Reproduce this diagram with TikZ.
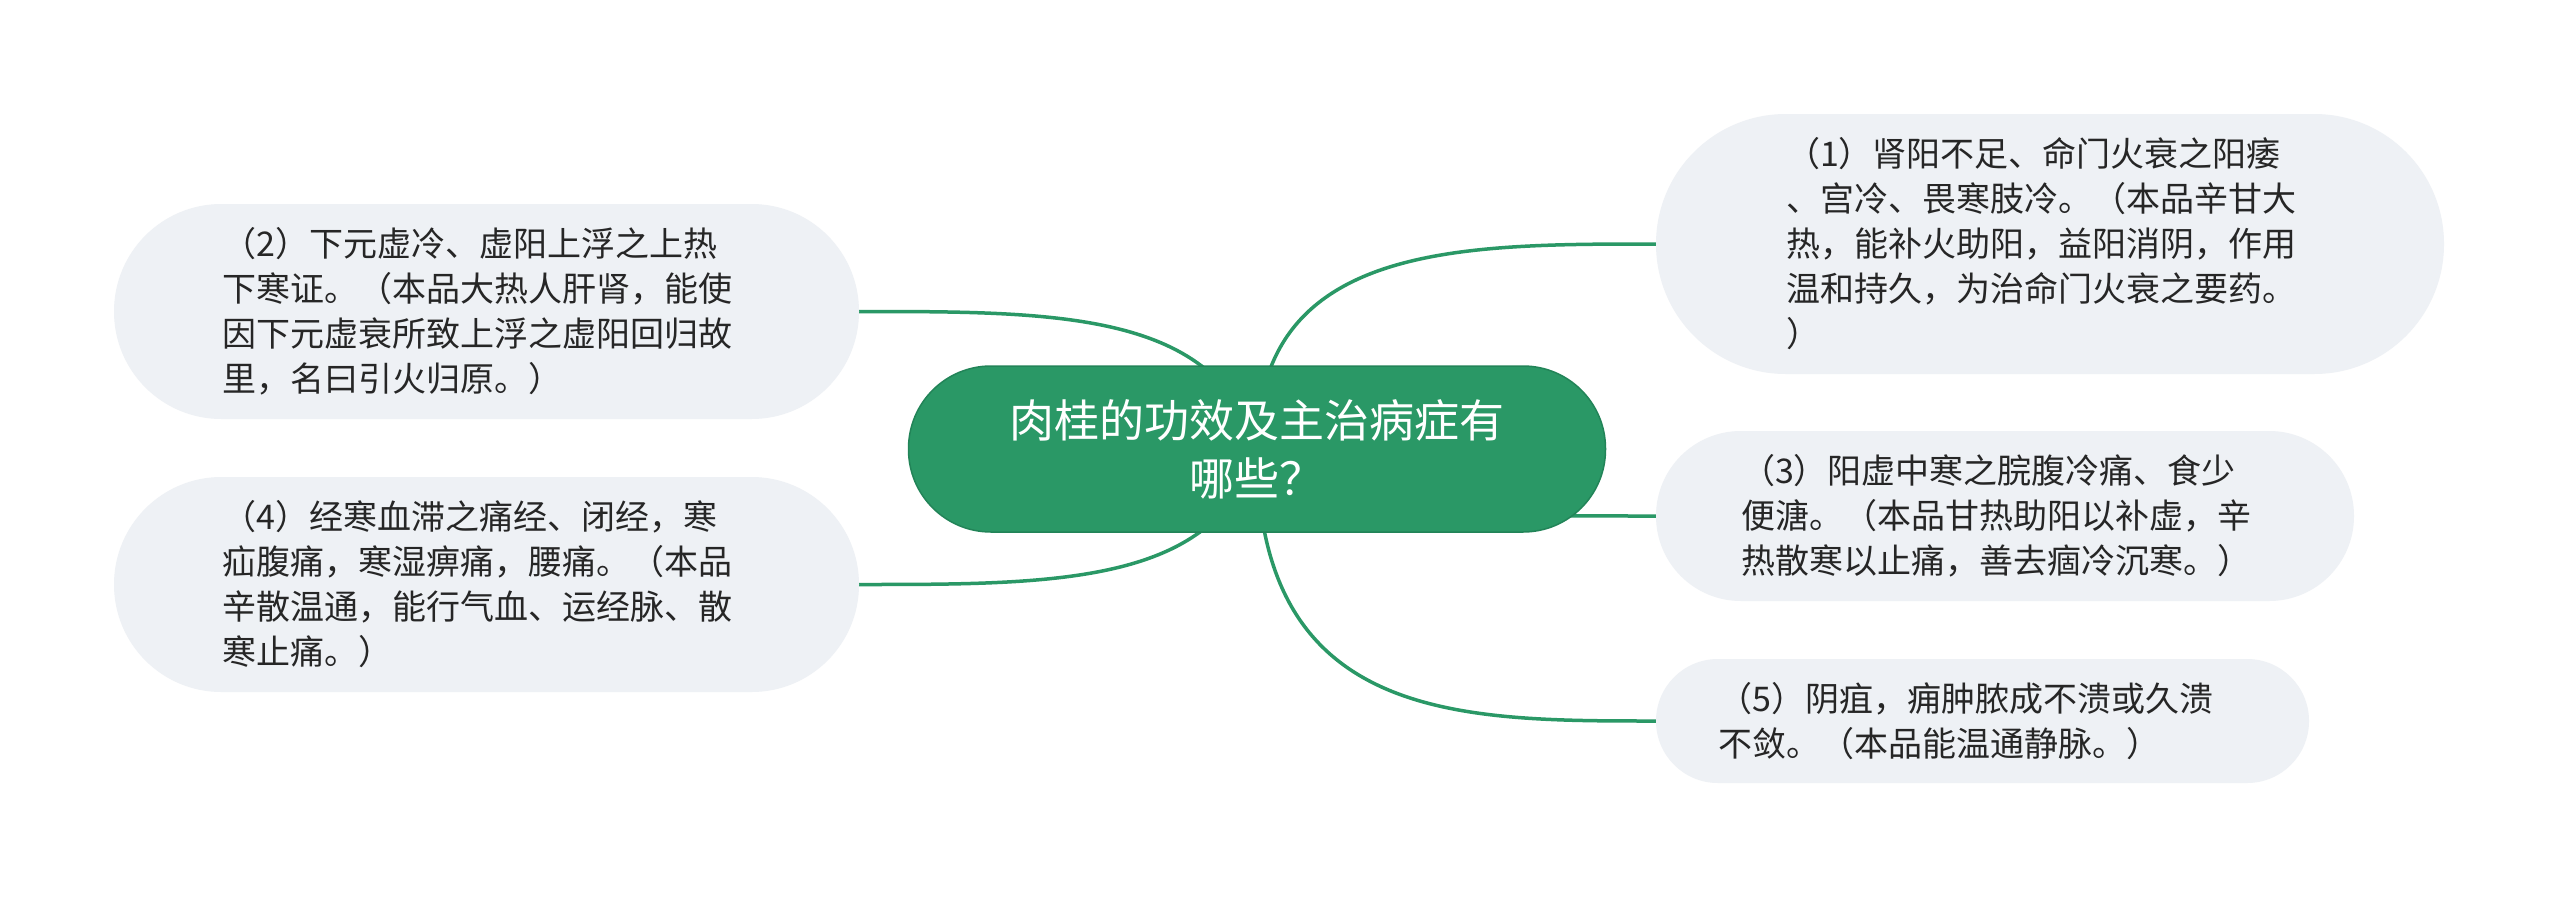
\documentclass[tikz,border=0pt]{standalone}
\usepackage{fontspec}
\setmainfont{Noto Sans CJK SC}
\usetikzlibrary{calc}
\definecolor{mmgreen}{RGB}{42,152,102}
\definecolor{mmedge}{RGB}{34,132,88}
\definecolor{leafbg}{RGB}{238,241,245}
\definecolor{leaftext}{RGB}{38,38,38}
\pgfdeclarelayer{bg}
\pgfsetlayers{bg,main}
\tikzset{
  leaf/.style 2 args={fill=leafbg, rounded corners=0.499*#2, minimum width=#1,
    minimum height=#2, inner sep=0pt, text width=528pt, align=left,
    text=leaftext, font=\fontsize{34}{45}\selectfont},
  root/.style={fill=mmgreen, draw=mmedge, line width=1.5pt, rounded corners=82.5,
    minimum width=697, minimum height=166, inner sep=0pt, text width=600pt,
    align=center, text=white, font=\fontsize{45}{58}\selectfont},
  conn/.style={draw=mmgreen, line width=3.5pt}
}
\begin{document}
\begin{tikzpicture}[x=1pt,y=-1pt]
\useasboundingbox (0,0) rectangle (2560,897);

\node[root] (C) at (1257,449) {肉桂的功效及主治病症有\\哪些？};

\node[leaf={788}{260}] (n1) at (2050,244)
  {（1）肾阳不足、命门火衰之阳痿\\、宫冷、畏寒肢冷。（本品辛甘大\\热，能补火助阳，益阳消阴，作用\\温和持久，为治命门火衰之要药。\\）};
\node[leaf={745}{215}] (n2) at (486.5,311.5)
  {（2）下元虚冷、虚阳上浮之上热\\下寒证。（本品大热人肝肾，能使\\因下元虚衰所致上浮之虚阳回归故\\里，名曰引火归原。）};
\node[leaf={698}{170}] (n3) at (2005,516)
  {（3）阳虚中寒之脘腹冷痛、食少\\便溏。（本品甘热助阳以补虚，辛\\热散寒以止痛，善去痼冷沉寒。）};
\node[leaf={745}{215}] (n4) at (486.5,584.5)
  {（4）经寒血滞之痛经、闭经，寒\\疝腹痛，寒湿痹痛，腰痛。（本品\\辛散温通，能行气血、运经脉、散\\寒止痛。）};
\node[leaf={653}{124}] (n5) at (1982.5,721)
  {（5）阴疽，痈肿脓成不溃或久溃\\不敛。（本品能温通静脉。）};

\begin{pgfonlayer}{bg}
\fill[white] (0,0) rectangle (2560,897);
\foreach \t in {n1,n3,n5}{
  \draw[conn] (C.center) .. controls (C.center |- \t.west) and ($(C.center |- \t.west)!0.5!(\t.west)$) .. (\t.west);
}
\foreach \t in {n2,n4}{
  \draw[conn] (C.center) .. controls ($(C.center |- \t.east)!0.1!(\t.east)$) and ($(C.center |- \t.east)!0.5!(\t.east)$) .. (\t.east);
}
\end{pgfonlayer}
\end{tikzpicture}
\end{document}
